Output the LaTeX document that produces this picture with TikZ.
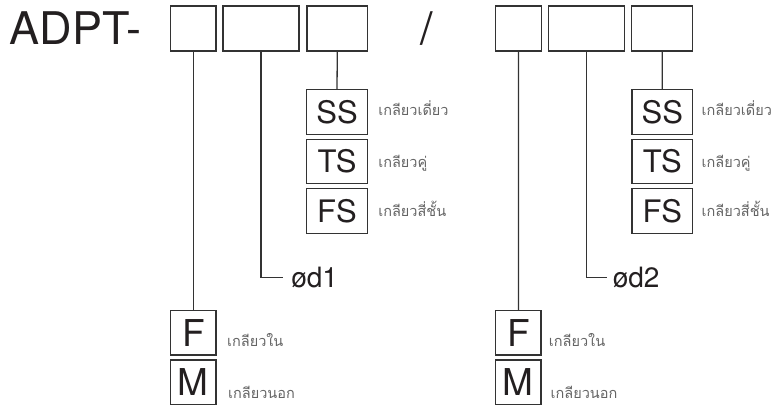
\documentclass[tikz,border=0pt]{standalone}
\usepackage{fontspec}
\setmainfont{TeX Gyre Heros}
\newfontfamily\thaifont[Script=Thai]{Loma}
\usetikzlibrary{positioning}
\definecolor{linegray}{RGB}{51,51,51}
\definecolor{inkgray}{RGB}{35,31,32}
\definecolor{thaigray}{RGB}{100,100,100}

\begin{document}
\begin{tikzpicture}[
    x=1pt, y=-1pt,
    line width=1.3pt,
    slot/.style={draw=linegray, minimum width=#1, minimum height=45pt, inner sep=0pt},
    slot/.default=45pt,
    code/.style={draw=linegray, text=inkgray, minimum width=60.6pt, minimum height=44.5pt,
        inner sep=0pt, font=\fontsize{31}{31}\selectfont},
    gender/.style={draw=linegray, text=inkgray, minimum width=45.3pt, minimum height=44.3pt,
        inner sep=0pt, font=\fontsize{37}{37}\selectfont},
    thai/.style={anchor=base west, text=thaigray, inner sep=0pt,
        font=\thaifont\fontsize{14.5}{14.5}\selectfont},
    dia/.style={anchor=west, inner sep=0pt, text=inkgray, font=\fontsize{28}{28}\selectfont},
    wire/.style={draw=linegray}
]
    \useasboundingbox (0,0) rectangle (776,409);

    % Part number head
    \node[anchor=base west, inner sep=0pt, text=inkgray, font=\fontsize{45}{45}\selectfont]
        (head) at (9,45) {ADPT-};
    \node[anchor=base, inner sep=0pt, text=inkgray, font=\fontsize{45}{45}\selectfont]
        (slash) at (427,45) {/};

    % Slots, first end
    \node[slot=45.3pt] (endA) at (193.4,28.5) {};
    \node[slot=76pt]   (sizeA) at (261,28.5) {};
    \node[slot=60.7pt] (threadA) at (337.3,28.5) {};

    % Slots, second end
    \node[slot=45.6pt] (endB) at (518.5,28.5) {};
    \node[slot=76pt]   (sizeB) at (586.7,28.5) {};
    \node[slot=61pt]   (threadB) at (662.2,28.5) {};

    % Thread codes
    \node[code] (ssA) at (337,112)   {SS};
    \node[code] (tsA) at (337,161.5) {TS};
    \node[code] (fsA) at (337,211)   {FS};
    \node[code] (ssB) at (662.3,112)   {SS};
    \node[code] (tsB) at (662.3,161.5) {TS};
    \node[code] (fsB) at (662.3,211)   {FS};

    \node[thai] (ssAt) at (377.7,116)   {เกลียวเดี่ยว};
    \node[thai] (tsAt) at (377.7,167)   {เกลียวคู่};
    \node[thai] (fsAt) at (377.7,216.7) {เกลียวสี่ชั้น};
    \node[thai] (ssBt) at (701,116)   {เกลียวเดี่ยว};
    \node[thai] (tsBt) at (701,167)   {เกลียวคู่};
    \node[thai] (fsBt) at (701,216.7) {เกลียวสี่ชั้น};

    % Diameters
    \node[dia, inner xsep=8pt] (dA) at (282.7,277.5) {ød1};
    \node[dia, inner xsep=5.5pt] (dB) at (606.7,277.5) {ød2};

    % End types
    \node[gender] (fA) at (193.4,332.8) {F};
    \node[gender] (mA) at (193.4,382)   {M};
    \node[gender] (fB) at (518.4,332.8) {F};
    \node[gender] (mB) at (518.4,382)   {M};

    \node[thai] (fAt) at (226.5,346)  {เกลียวใน};
    \node[thai] (mAt) at (227.5,398)  {เกลียวนอก};
    \node[thai] (fBt) at (548.3,346)  {เกลียวใน};
    \node[thai] (mBt) at (550,398)    {เกลียวนอก};

    % Connectors
    \draw[wire] (endA.south) -- (fA.north);
    \draw[wire] (sizeA.south) |- (dA.west);
    \draw[wire] (threadA.south) -- (ssA.north);
    \draw[wire] (endB.south) -- (fB.north);
    \draw[wire] (sizeB.south) |- (dB.west);
    \draw[wire] (threadB.south) -- (ssB.north);

\end{tikzpicture}
\end{document}
